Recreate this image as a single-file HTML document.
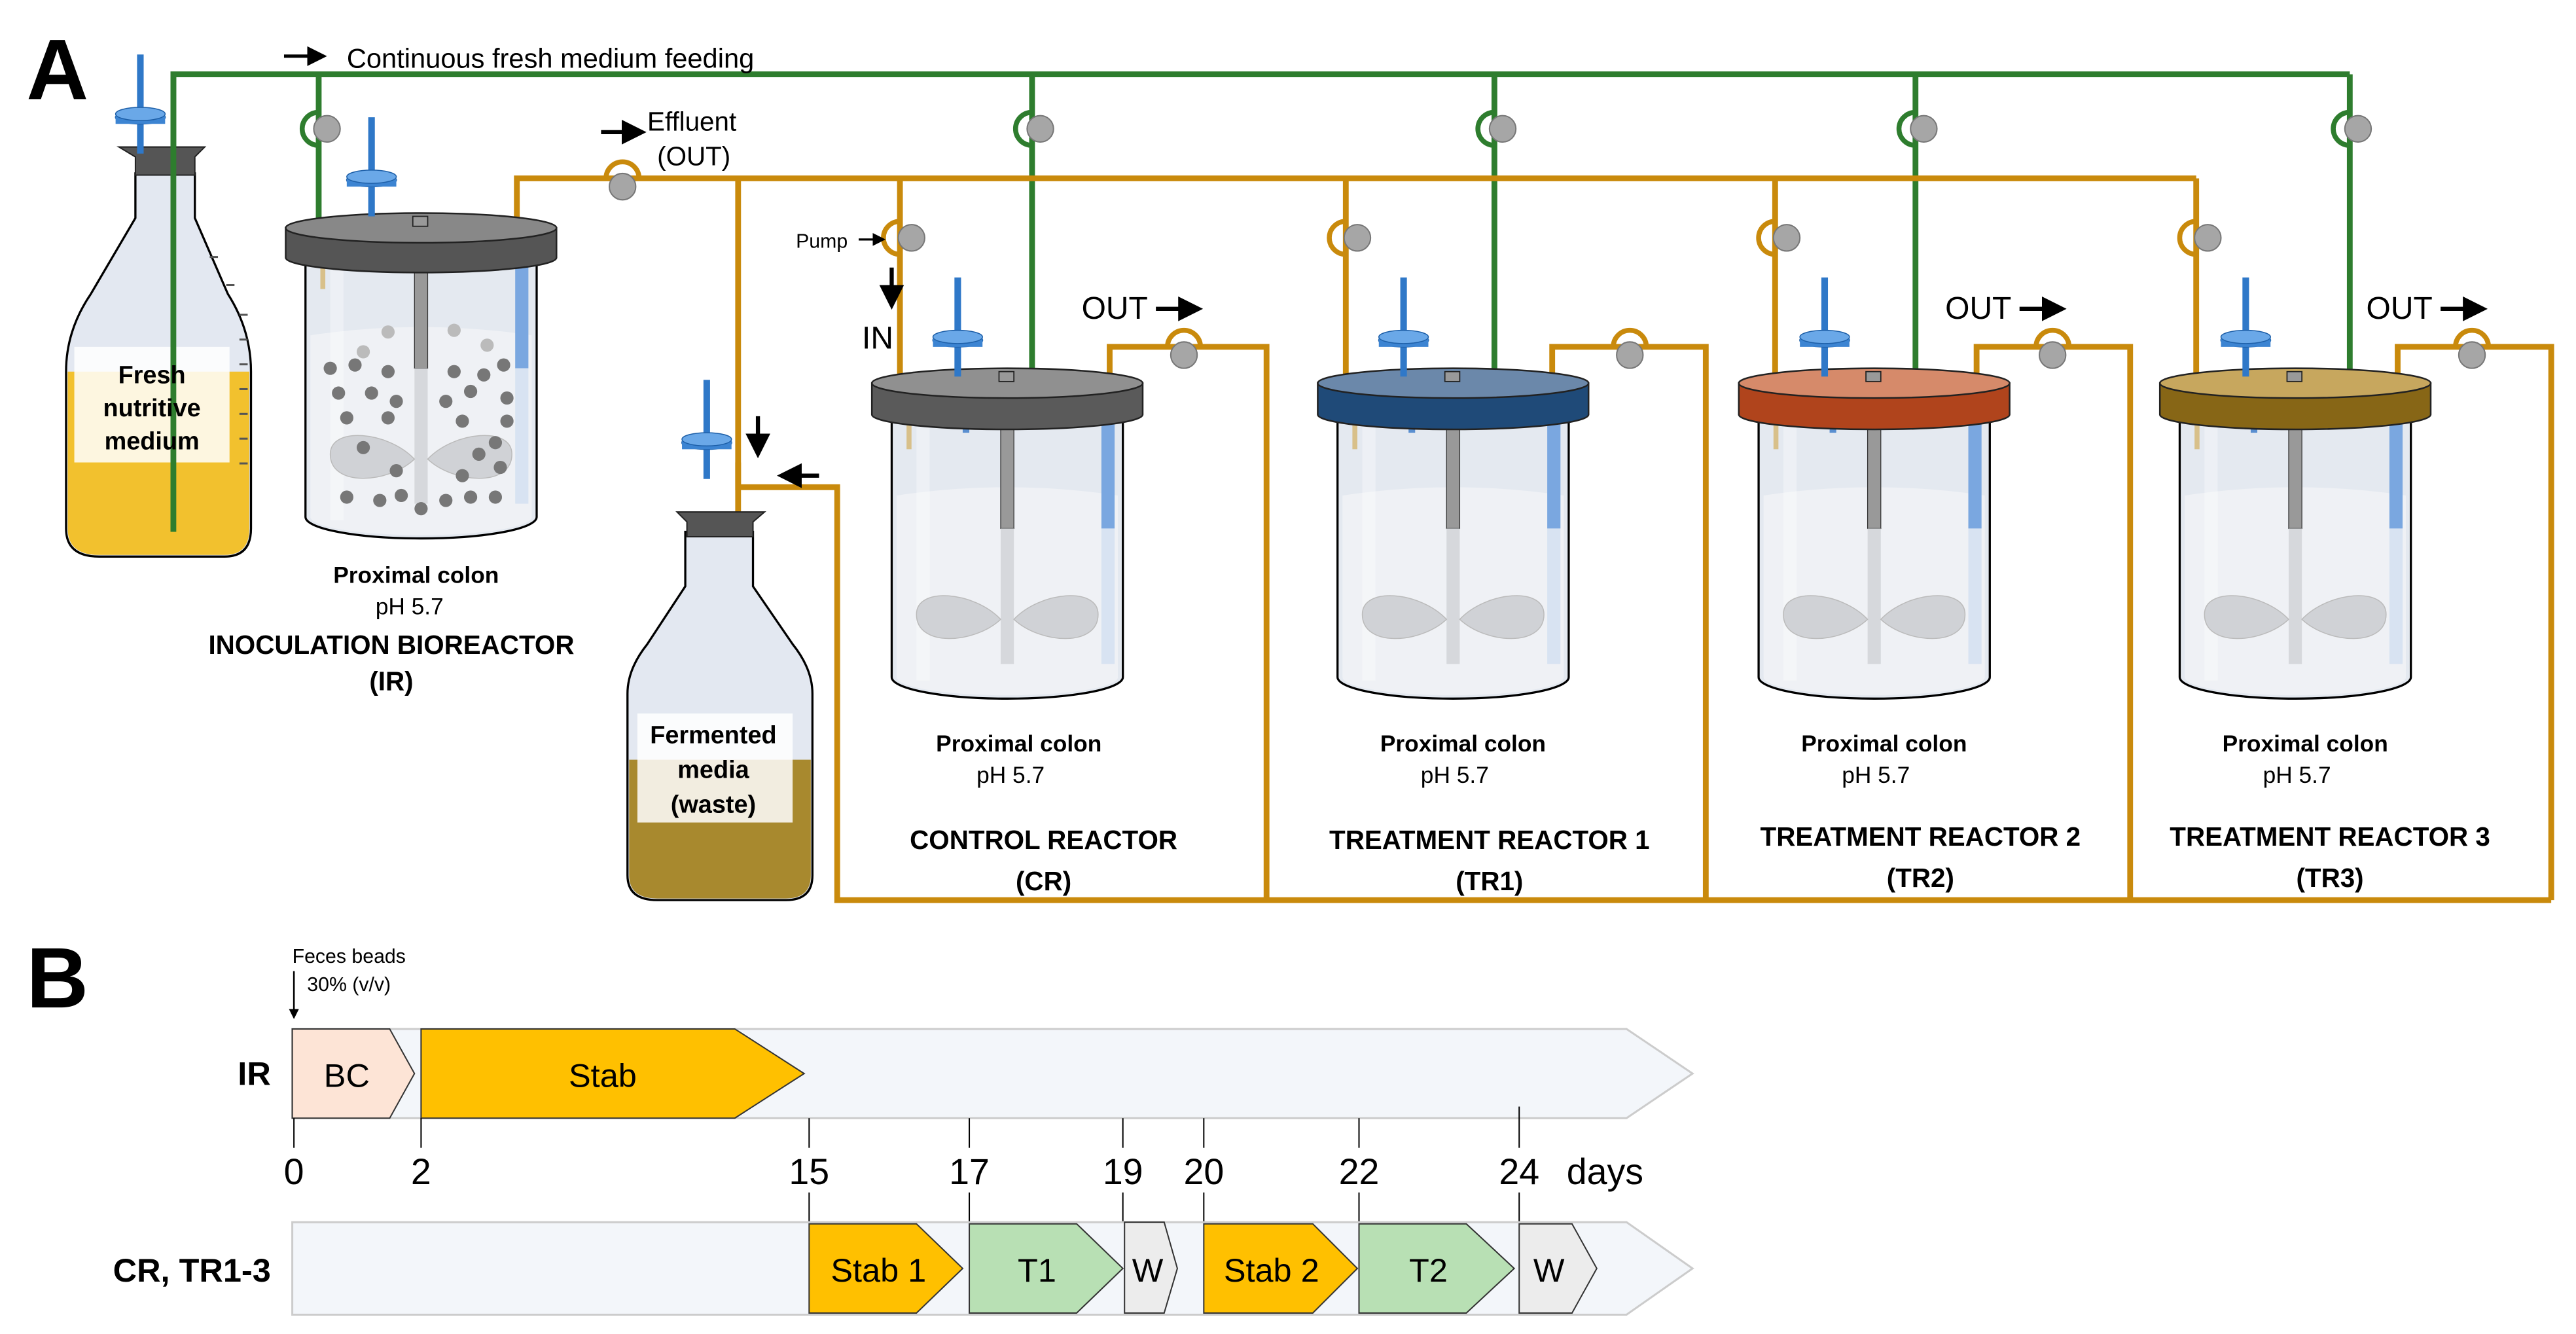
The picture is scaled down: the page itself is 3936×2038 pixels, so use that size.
<!DOCTYPE html>
<html><head><meta charset="utf-8"><style>
html,body{margin:0;padding:0;background:#fff;}
svg{display:block;}
text{font-family:"Liberation Sans",sans-serif;}
</style></head><body>
<svg width="3936" height="2038" viewBox="0 0 1560 807.7" preserveAspectRatio="none" xmlns="http://www.w3.org/2000/svg">
<defs>
<marker id="ah" markerWidth="6" markerHeight="6" refX="5" refY="3" orient="auto" markerUnits="strokeWidth"><path d="M0,0 L6,3 L0,6 z" fill="#000"/></marker>
<g id="glass">
  <path d="M-70,250 L-70,410 A70,13 0 0 0 70,410 L70,250 Z" fill="#e4e9f0" stroke="#000" stroke-width="1.3"/>
  <path d="M-67,300 Q0,290 67,300 L67,410 A67,11 0 0 1 -67,410 Z" fill="#eff1f5"/>
  <rect x="-55" y="252" width="8" height="160" fill="#fff" opacity="0.35"/>
  <rect x="-4" y="252" width="8" height="68" fill="#999" stroke="#333" stroke-width="0.5"/>
  <rect x="-4" y="320" width="8" height="82" fill="#d6d8dc"/>
  <path d="M-4,375 C-20,358 -55,355 -55,372 C-55,392 -20,390 -4,375 Z" fill="#d0d2d6" stroke="#bbb" stroke-width="0.6"/>
  <path d="M4,375 C20,358 55,355 55,372 C55,392 20,390 4,375 Z" fill="#d0d2d6" stroke="#bbb" stroke-width="0.6"/>
  <rect x="57" y="252" width="8" height="68" fill="#7aa7e0"/>
  <rect x="57" y="320" width="8" height="82" fill="#d8e3f2"/>
  <rect x="-61" y="252" width="3" height="20" fill="#d8c08a"/>
  <rect x="-27" y="252" width="4" height="10" fill="#5a8fd0"/>
</g>
<g id="filter">
  <rect x="-32" y="168" width="4" height="60" fill="#2f78c8"/>
  <ellipse cx="-30" cy="206" rx="15" ry="4" fill="#5b9de0" stroke="#1d5fa8" stroke-width="0.8"/>
  <rect x="-45" y="204" width="30" height="6" fill="#3c84d2"/>
  <ellipse cx="-30" cy="204" rx="15" ry="4" fill="#6aa8e8" stroke="#1d5fa8" stroke-width="0.6"/>
</g>
<g id="pump"><circle r="8" fill="#a6a6a6" stroke="#777" stroke-width="0.8"/></g>
</defs>

<text x="16" y="60" font-size="52" font-weight="bold">A</text>
<text x="16" y="610" font-size="52" font-weight="bold">B</text>

<g stroke="#2e7d2e" stroke-width="3.5" fill="none">
  <path d="M105,322 L105,45 L1423,45"/>
  <path d="M193,45 L193,155"/>
  <path d="M625,45 L625,228"/>
  <path d="M905,45 L905,228"/>
  <path d="M1160,45 L1160,228"/>
  <path d="M1423,45 L1423,228"/>
</g>
<line x1="172" y1="34" x2="196" y2="34" stroke="#000" stroke-width="2" marker-end="url(#ah)"/>
<text x="210" y="41" font-size="16.5">Continuous fresh medium feeding</text>

<g>
  <g transform="translate(193,78)"><path d="M0,-10 A10,10 0 0 0 0,10" fill="none" stroke="#2e7d2e" stroke-width="3"/><use href="#pump" x="5"/></g>
  <g transform="translate(625,78)"><path d="M0,-10 A10,10 0 0 0 0,10" fill="none" stroke="#2e7d2e" stroke-width="3"/><use href="#pump" x="5"/></g>
  <g transform="translate(905,78)"><path d="M0,-10 A10,10 0 0 0 0,10" fill="none" stroke="#2e7d2e" stroke-width="3"/><use href="#pump" x="5"/></g>
  <g transform="translate(1160,78)"><path d="M0,-10 A10,10 0 0 0 0,10" fill="none" stroke="#2e7d2e" stroke-width="3"/><use href="#pump" x="5"/></g>
  <g transform="translate(1423,78)"><path d="M0,-10 A10,10 0 0 0 0,10" fill="none" stroke="#2e7d2e" stroke-width="3"/><use href="#pump" x="5"/></g>
</g>

<g stroke="#c98a0c" stroke-width="3.5" fill="none">
  <path d="M313,132 L313,108 L1330,108"/>
  <path d="M447,108 L447,295 L507,295 L507,545 L1545,545"/>
  <path d="M447,280 L447,345"/>
  <path d="M545,108 L545,228"/>
  <path d="M815,108 L815,228"/>
  <path d="M1075,108 L1075,228"/>
  <path d="M1330,108 L1330,228"/>
  <path d="M672,232 L672,210 L767,210 L767,545"/>
  <path d="M940,232 L940,210 L1033,210 L1033,545"/>
  <path d="M1197,232 L1197,210 L1290,210 L1290,545"/>
  <path d="M1452,232 L1452,210 L1545,210 L1545,545"/>
</g>
<g>
  <g transform="translate(377,108)"><path d="M-10,0 A10,10 0 0 1 10,0" fill="none" stroke="#c98a0c" stroke-width="3"/><use href="#pump" y="5"/></g>
  <g transform="translate(717,210)"><path d="M-10,0 A10,10 0 0 1 10,0" fill="none" stroke="#c98a0c" stroke-width="3"/><use href="#pump" y="5"/></g>
  <g transform="translate(987,210)"><path d="M-10,0 A10,10 0 0 1 10,0" fill="none" stroke="#c98a0c" stroke-width="3"/><use href="#pump" y="5"/></g>
  <g transform="translate(1243,210)"><path d="M-10,0 A10,10 0 0 1 10,0" fill="none" stroke="#c98a0c" stroke-width="3"/><use href="#pump" y="5"/></g>
  <g transform="translate(1497,210)"><path d="M-10,0 A10,10 0 0 1 10,0" fill="none" stroke="#c98a0c" stroke-width="3"/><use href="#pump" y="5"/></g>
  <g transform="translate(545,144)"><path d="M0,-10 A10,10 0 0 0 0,10" fill="none" stroke="#c98a0c" stroke-width="3"/><use href="#pump" x="7"/></g>
  <g transform="translate(815,144)"><path d="M0,-10 A10,10 0 0 0 0,10" fill="none" stroke="#c98a0c" stroke-width="3"/><use href="#pump" x="7"/></g>
  <g transform="translate(1075,144)"><path d="M0,-10 A10,10 0 0 0 0,10" fill="none" stroke="#c98a0c" stroke-width="3"/><use href="#pump" x="7"/></g>
  <g transform="translate(1330,144)"><path d="M0,-10 A10,10 0 0 0 0,10" fill="none" stroke="#c98a0c" stroke-width="3"/><use href="#pump" x="7"/></g>
</g>
<line x1="364" y1="80" x2="389" y2="80" stroke="#000" stroke-width="2.5" marker-end="url(#ah)"/>
<text x="392" y="79" font-size="16">Effluent</text>
<text x="398" y="100" font-size="16">(OUT)</text>
<text x="482" y="150" font-size="12">Pump</text>
<line x1="520" y1="145" x2="535" y2="145" stroke="#000" stroke-width="1.3" marker-end="url(#ah)"/>
<line x1="540" y1="162" x2="540" y2="185" stroke="#000" stroke-width="2.5" marker-end="url(#ah)"/>
<text x="522" y="211" font-size="19">IN</text>
<line x1="459" y1="252" x2="459" y2="275" stroke="#000" stroke-width="2.5" marker-end="url(#ah)"/>
<line x1="496" y1="288" x2="473" y2="288" stroke="#000" stroke-width="2.5" marker-end="url(#ah)"/>

<!-- Fresh medium bottle -->
<g>
  <path d="M82,105 L82,132 L55,178 Q40,200 40,225 L40,320 Q40,337 60,337 L136,337 Q152,337 152,320 L152,225 Q152,200 138,178 L118,132 L118,105 Z" fill="#e3e8f1" stroke="#000" stroke-width="1.3"/>
  <path d="M41,225 L151,225 L151,320 Q151,336 136,336 L60,336 Q41,336 41,320 Z" fill="#f2c12e"/>
  <rect x="45" y="210" width="94" height="70" fill="#fff" opacity="0.85"/>
  <path d="M72,89 L124,89 L118,95 L118,106 L82,106 L82,95 Z" fill="#555" stroke="#222" stroke-width="0.8"/>
  <g transform="translate(115,-135)"><use href="#filter"/></g>
  <path d="M105,45 L105,322" stroke="#2e7d2e" stroke-width="3.5"/>
  <text x="92" y="232" font-size="15" font-weight="bold" text-anchor="middle">Fresh</text>
  <text x="92" y="252" font-size="15" font-weight="bold" text-anchor="middle">nutritive</text>
  <text x="92" y="272" font-size="15" font-weight="bold" text-anchor="middle">medium</text>
  <g fill="#555"><rect x="127" y="155" width="5" height="1.2"/><rect x="137" y="172" width="5" height="1.2"/><rect x="145" y="190" width="5" height="1.2"/><rect x="145" y="205" width="5" height="1.2"/><rect x="145" y="220" width="5" height="1.2"/><rect x="145" y="235" width="5" height="1.2"/><rect x="145" y="250" width="5" height="1.2"/><rect x="145" y="265" width="5" height="1.2"/><rect x="145" y="280" width="5" height="1.2"/></g>
</g>

<!-- Waste bottle -->
<g>
  <path d="M415,322 L415,355 L392,390 Q380,405 380,420 L380,530 Q380,545 398,545 L476,545 Q492,545 492,530 L492,420 Q492,405 480,390 L456,355 L456,322 Z" fill="#e3e8f1" stroke="#000" stroke-width="1.3"/>
  <path d="M381,460 L491,460 L491,530 Q491,544 476,544 L398,544 Q381,544 381,530 Z" fill="#a8892e"/>
  <rect x="386" y="432" width="94" height="66" fill="#fff" opacity="0.85"/>
  <path d="M410,310 L463,310 L456,316 L456,325 L416,325 L416,316 Z" fill="#555" stroke="#222" stroke-width="0.8"/>
  <g transform="translate(458,62)"><use href="#filter"/></g>
  <text x="432" y="450" font-size="15" font-weight="bold" text-anchor="middle">Fermented</text>
  <text x="432" y="471" font-size="15" font-weight="bold" text-anchor="middle">media</text>
  <text x="432" y="492" font-size="15" font-weight="bold" text-anchor="middle">(waste)</text>
</g>

<!-- IR reactor -->
<g transform="translate(255,-97)">
  <use href="#glass"/>
  <g fill="#777">
    <circle cx="-55" cy="320" r="4"/><circle cx="-40" cy="318" r="4"/><circle cx="-20" cy="322" r="4"/><circle cx="20" cy="322" r="4"/><circle cx="38" cy="324" r="4"/><circle cx="50" cy="318" r="4"/>
    <circle cx="-50" cy="335" r="4"/><circle cx="-30" cy="335" r="4"/><circle cx="-15" cy="340" r="4"/><circle cx="15" cy="340" r="4"/><circle cx="30" cy="334" r="4"/><circle cx="52" cy="338" r="4"/>
    <circle cx="-45" cy="350" r="4"/><circle cx="-20" cy="350" r="4"/><circle cx="25" cy="352" r="4"/><circle cx="52" cy="352" r="4"/>
    <circle cx="-35" cy="368" r="4"/><circle cx="-15" cy="382" r="4"/><circle cx="35" cy="372" r="4"/><circle cx="45" cy="365" r="4"/><circle cx="48" cy="380" r="4"/><circle cx="25" cy="385" r="4"/>
    <circle cx="-45" cy="398" r="4"/><circle cx="-25" cy="400" r="4"/><circle cx="-12" cy="397" r="4"/><circle cx="15" cy="400" r="4"/><circle cx="30" cy="398" r="4"/><circle cx="45" cy="398" r="4"/><circle cx="0" cy="405" r="4"/>
  </g>
  <g fill="#bbb"><circle cx="-20" cy="298" r="4"/><circle cx="20" cy="297" r="4"/><circle cx="-35" cy="310" r="4"/><circle cx="40" cy="306" r="4"/></g>
  <path d="M-82,235 L-82,253 A82,9 0 0 0 82,253 L82,235 Z" fill="#555" stroke="#222" stroke-width="1"/>
  <ellipse cx="0" cy="235" rx="82" ry="9" fill="#888" stroke="#222" stroke-width="1"/>
  <rect x="-5" y="228" width="9" height="6" fill="#999" stroke="#222" stroke-width="0.7"/>
  <use href="#filter"/>
</g>
<text x="252" y="353" font-size="14" font-weight="bold" text-anchor="middle">Proximal colon</text>
<text x="248" y="372" font-size="14" text-anchor="middle">pH 5.7</text>
<text x="237" y="396" font-size="16" font-weight="bold" text-anchor="middle">INOCULATION BIOREACTOR</text>
<text x="237" y="418" font-size="16" font-weight="bold" text-anchor="middle">(IR)</text>

<g transform="translate(610,0)">
  <use href="#glass"/>
  <path d="M-82,232 L-82,251 A82,9 0 0 0 82,251 L82,232 Z" fill="#5a5a5a" stroke="#222" stroke-width="1"/>
  <ellipse cx="0" cy="232" rx="82" ry="9" fill="#909090" stroke="#222" stroke-width="1"/>
  <rect x="-5" y="225" width="9" height="6" fill="#999" stroke="#222" stroke-width="0.7"/>
  <use href="#filter"/>
</g>
<g transform="translate(880,0)">
  <use href="#glass"/>
  <path d="M-82,232 L-82,251 A82,9 0 0 0 82,251 L82,232 Z" fill="#1f4a78" stroke="#222" stroke-width="1"/>
  <ellipse cx="0" cy="232" rx="82" ry="9" fill="#6b88aa" stroke="#222" stroke-width="1"/>
  <rect x="-5" y="225" width="9" height="6" fill="#999" stroke="#222" stroke-width="0.7"/>
  <use href="#filter"/>
</g>
<g transform="translate(1135,0)">
  <use href="#glass"/>
  <path d="M-82,232 L-82,251 A82,9 0 0 0 82,251 L82,232 Z" fill="#b0441c" stroke="#222" stroke-width="1"/>
  <ellipse cx="0" cy="232" rx="82" ry="9" fill="#d68a6a" stroke="#222" stroke-width="1"/>
  <rect x="-5" y="225" width="9" height="6" fill="#999" stroke="#222" stroke-width="0.7"/>
  <use href="#filter"/>
</g>
<g transform="translate(1390,0)">
  <use href="#glass"/>
  <path d="M-82,232 L-82,251 A82,9 0 0 0 82,251 L82,232 Z" fill="#876616" stroke="#222" stroke-width="1"/>
  <ellipse cx="0" cy="232" rx="82" ry="9" fill="#c7a75e" stroke="#222" stroke-width="1"/>
  <rect x="-5" y="225" width="9" height="6" fill="#999" stroke="#222" stroke-width="0.7"/>
  <use href="#filter"/>
</g>

<text x="655" y="193" font-size="19">OUT</text><line x1="700" y1="187" x2="726" y2="187" stroke="#000" stroke-width="2.5" marker-end="url(#ah)"/>
<text x="1178" y="193" font-size="19">OUT</text><line x1="1223" y1="187" x2="1249" y2="187" stroke="#000" stroke-width="2.5" marker-end="url(#ah)"/>
<text x="1433" y="193" font-size="19">OUT</text><line x1="1478" y1="187" x2="1504" y2="187" stroke="#000" stroke-width="2.5" marker-end="url(#ah)"/>

<g font-size="14" text-anchor="middle">
  <text x="617" y="455" font-weight="bold">Proximal colon</text><text x="612" y="474">pH 5.7</text>
  <text x="886" y="455" font-weight="bold">Proximal colon</text><text x="881" y="474">pH 5.7</text>
  <text x="1141" y="455" font-weight="bold">Proximal colon</text><text x="1136" y="474">pH 5.7</text>
  <text x="1396" y="455" font-weight="bold">Proximal colon</text><text x="1391" y="474">pH 5.7</text>
</g>
<g font-size="16" font-weight="bold" text-anchor="middle">
  <text x="632" y="514">CONTROL REACTOR</text><text x="632" y="539">(CR)</text>
  <text x="902" y="514">TREATMENT REACTOR 1</text><text x="902" y="539">(TR1)</text>
  <text x="1163" y="512">TREATMENT REACTOR 2</text><text x="1163" y="537">(TR2)</text>
  <text x="1411" y="512">TREATMENT REACTOR 3</text><text x="1411" y="537">(TR3)</text>
</g>

<!-- Panel B -->
<text x="177" y="583" font-size="12">Feces beads</text>
<text x="186" y="600" font-size="12">30% (v/v)</text>
<line x1="178" y1="588" x2="178" y2="616" stroke="#000" stroke-width="1" marker-end="url(#ah)"/>

<text x="164" y="657" font-size="20" font-weight="bold" text-anchor="end">IR</text>
<path d="M177,623 L985,623 L1025,650 L985,677 L177,677 Z" fill="#f3f6fa" stroke="#ccc" stroke-width="1.2"/>
<path d="M177,623 L236,623 L251,650 L236,677 L177,677 Z" fill="#fde4d6" stroke="#333" stroke-width="0.8"/>
<path d="M255,623 L445,623 L487,650 L445,677 L255,677 Z" fill="#ffc000" stroke="#333" stroke-width="0.8"/>
<text x="210" y="658" font-size="20" text-anchor="middle">BC</text>
<text x="365" y="658" font-size="20" text-anchor="middle">Stab</text>

<g stroke="#000" stroke-width="0.8">
  <line x1="178" y1="677" x2="178" y2="695"/><line x1="255" y1="677" x2="255" y2="695"/>
  <line x1="490" y1="677" x2="490" y2="695"/><line x1="587" y1="677" x2="587" y2="695"/>
  <line x1="680" y1="677" x2="680" y2="695"/><line x1="729" y1="677" x2="729" y2="695"/>
  <line x1="823" y1="677" x2="823" y2="695"/><line x1="920" y1="670" x2="920" y2="695"/>
  <line x1="490" y1="722" x2="490" y2="740"/><line x1="587" y1="722" x2="587" y2="740"/>
  <line x1="680" y1="722" x2="680" y2="740"/><line x1="729" y1="722" x2="729" y2="740"/>
  <line x1="823" y1="722" x2="823" y2="740"/><line x1="920" y1="722" x2="920" y2="740"/>
</g>
<g font-size="22" text-anchor="middle">
  <text x="178" y="717">0</text><text x="255" y="717">2</text><text x="490" y="717">15</text>
  <text x="587" y="717">17</text><text x="680" y="717">19</text><text x="729" y="717">20</text>
  <text x="823" y="717">22</text><text x="920" y="717">24</text><text x="972" y="717">days</text>
</g>

<text x="164" y="776" font-size="20" font-weight="bold" text-anchor="end">CR, TR1-3</text>
<path d="M177,740 L985,740 L1025,768 L985,796 L177,796 Z" fill="#f3f6fa" stroke="#ccc" stroke-width="1.2"/>
<g stroke="#333" stroke-width="0.8">
  <path d="M490,741 L555,741 L583,768 L555,795 L490,795 Z" fill="#ffc000"/>
  <path d="M587,741 L652,741 L680,768 L652,795 L587,795 Z" fill="#b8e0b4"/>
  <path d="M681,740 L705,740 L713,768 L705,795 L681,795 Z" fill="#ececec"/>
  <path d="M729,741 L795,741 L822,768 L795,795 L729,795 Z" fill="#ffc000"/>
  <path d="M823,741 L888,741 L917,768 L888,795 L823,795 Z" fill="#b8e0b4"/>
  <path d="M920,741 L952,741 L967,768 L952,795 L920,795 Z" fill="#ececec"/>
</g>
<g font-size="20" text-anchor="middle">
  <text x="532" y="776">Stab 1</text><text x="628" y="776">T1</text><text x="695" y="776">W</text>
  <text x="770" y="776">Stab 2</text><text x="865" y="776">T2</text><text x="938" y="776">W</text>
</g>
</svg>
</body></html>
